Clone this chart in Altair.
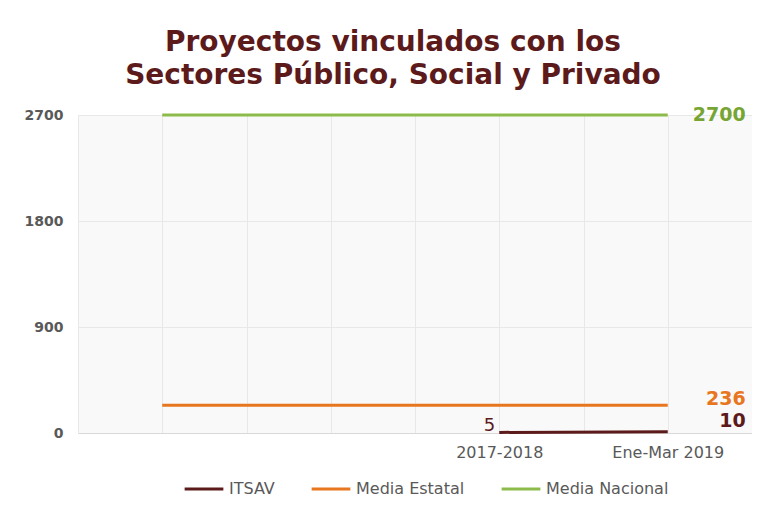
import altair as alt
import pandas as pd

# Categories (blank ones carry distinct whitespace names so they stay unlabeled)
categories = [" ", "  ", "   ", "    ", "2017-2018", "     ", "Ene-Mar 2019"]

itsav_cats = ["2017-2018", "Ene-Mar 2019"]
itsav_vals = [5, 10]

estatal_vals = [236, 236, 236, 236, 236, 236, 236]
nacional_vals = [2700, 2700, 2700, 2700, 2700, 2700, 2700]

series_names = ["ITSAV", "Media Estatal", "Media Nacional"]
series_colors = ["#5c1a1b", "#e8761e", "#8dbb4b"]

y_ticks = [0, 900, 1800, 2700]

rows = []
for c, v in zip(itsav_cats, itsav_vals):
    rows.append({"cat": c, "value": v, "serie": "ITSAV"})
for c, v in zip(categories, estatal_vals):
    rows.append({"cat": c, "value": v, "serie": "Media Estatal"})
for c, v in zip(categories, nacional_vals):
    rows.append({"cat": c, "value": v, "serie": "Media Nacional"})
df = pd.DataFrame(rows)

x_enc = alt.X(
    "cat:N",
    sort=categories,
    scale=alt.Scale(type="point", padding=1, domain=categories),
    axis=alt.Axis(
        title=None, labelAngle=0, ticks=False, domain=True, domainColor="#d9d9d9",
        labelPadding=11, labelFontSize=16, labelColor="#595959",
        labelFont="DejaVu Sans", grid=True, gridColor="#e8e8e8",
    ),
)
y_enc = alt.Y(
    "value:Q",
    scale=alt.Scale(domain=[0, 2700], nice=False),
    axis=alt.Axis(
        title=None, values=y_ticks, format="d", ticks=False, domain=False, labelPadding=15,
        labelFontSize=14, labelFontWeight="bold", labelColor="#595959",
        labelFont="DejaVu Sans", grid=True, gridColor="#e8e8e8",
    ),
)

lines = alt.Chart(df).mark_line(strokeWidth=3).encode(
    x=x_enc,
    y=y_enc,
    color=alt.Color(
        "serie:N",
        scale=alt.Scale(domain=series_names, range=series_colors),
        legend=alt.Legend(
            title=None, orient="none", legendX=105, legendY=353,
            direction="horizontal",
            symbolType="stroke", symbolSize=1500, symbolStrokeWidth=3,
            labelFontSize=16, labelColor="#595959", labelFont="DejaVu Sans",
            columnPadding=30, labelOffset=4,
        ),
    ),
    detail="serie:N",
)

def end_label(serie, color, dx, dy, bold=True, size=19, index=-1):
    sub = df[df.serie == serie].iloc[[index]]
    return alt.Chart(sub).mark_text(
        align="right", baseline="middle", dx=dx, dy=dy,
        fontSize=size, fontWeight="bold" if bold else "normal",
        font="DejaVu Sans", color=color,
    ).encode(
        x=alt.X("cat:N", sort=categories),
        y=alt.Y("value:Q"),
        text=alt.Text("value:Q"),
    )

labels = [
    end_label("Media Nacional", "#76a534", 78, 0),
    end_label("Media Estatal", "#e8761e", 78, -6),
    end_label("ITSAV", "#5c1a1b", 78, -11),
    end_label("ITSAV", "#5c1a1b", -4, -6, bold=False, size=18, index=0),
]

chart = alt.layer(lines, *labels).properties(
    width=674,
    height=318,
    title=alt.Title(
        ["Proyectos vinculados con los", "Sectores Público, Social y Privado"],
        fontSize=28, font="DejaVu Sans", fontWeight="bold", color="#5c1a1b",
        anchor="middle", dx=-22, offset=16, lineHeight=33,
    ),
    autosize=alt.AutoSizeParams(type="none"),
    padding={"left": 70, "top": 107, "right": 0, "bottom": 75},
).configure_view(
    stroke="#e8e8e8", fill="#f9f9f9"
)

chart.save("out.html", embed_options={"renderer": "svg", "actions": False})
